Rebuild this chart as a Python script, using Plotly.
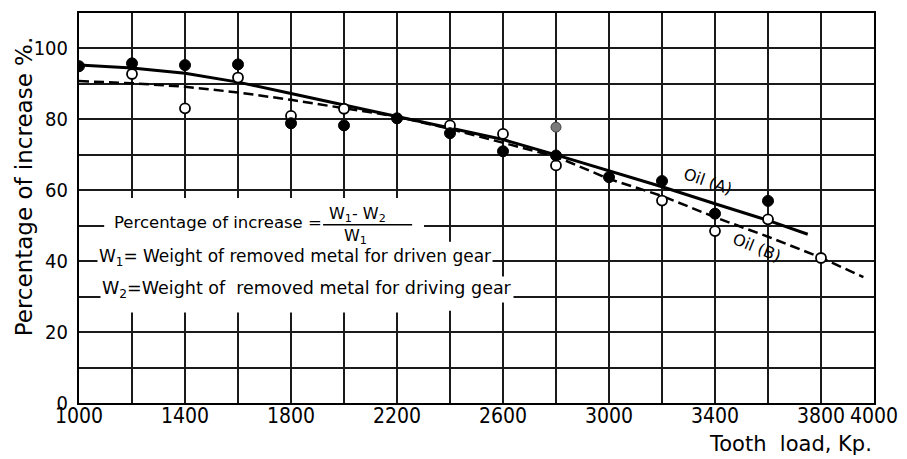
import plotly.graph_objects as go

# ---- data ----
load_a = [1000, 1200, 1400, 1600, 1800, 2000, 2200, 2400, 2600, 2800, 3000, 3200, 3400, 3600]
pct_a = [95.0, 95.8, 95.3, 95.5, 78.9, 78.3, 80.3, 76.1, 71.0, 69.8, 63.7, 62.6, 53.4, 57.0]

load_b = [1200, 1400, 1600, 1800, 2000, 2400, 2600, 2800, 3200, 3400, 3600, 3800]
pct_b = [92.8, 83.1, 91.8, 81.0, 83.0, 78.3, 75.9, 67.0, 57.1, 48.5, 51.8, 40.9]

load_grey = [2800]
pct_grey = [77.8]

curve_a_x = [1000, 1200, 1400, 1600, 1800, 2000, 2200, 2400, 2600, 2800, 3000, 3200, 3400, 3600, 3750]
curve_a_y = [95.3, 94.5, 93.0, 90.5, 87.3, 84.0, 80.8, 77.6, 74.3, 70.0, 65.5, 61.0, 56.2, 51.5, 47.6]

curve_b_x = [1000, 1200, 1400, 1600, 1800, 2000, 2200, 2400, 2600, 2800, 3000, 3200, 3400, 3600, 3800, 3960]
curve_b_y = [90.8, 90.2, 89.2, 87.6, 85.5, 83.2, 80.8, 77.3, 73.5, 69.5, 63.2, 58.4, 52.4, 46.9, 41.0, 35.5]

x_tick_vals = [1000, 1200, 1400, 1600, 1800, 2000, 2200, 2400, 2600, 2800, 3000, 3200, 3400, 3600, 3800, 4000]
x_tick_text = ["1000", "", "1400", "", "1800", "", "2200", "", "2600", "", "3000", "", "3400", "", "3800", "4000"]
y_tick_vals = [0, 10, 20, 30, 40, 50, 60, 70, 80, 90, 100, 110]
y_tick_text = ["0", "", "20", "", "40", "", "60", "", "80", "", "100", ""]

TXT = "DejaVu Sans"
NUM = "DejaVu Sans Condensed, DejaVu Sans"

fig = go.Figure()

fig.add_trace(go.Scatter(x=curve_a_x, y=curve_a_y, mode="lines",
                         line=dict(color="black", width=3), showlegend=False, hoverinfo="skip"))
fig.add_trace(go.Scatter(x=curve_b_x, y=curve_b_y, mode="lines",
                         line=dict(color="black", width=2.5, dash="10px,5px"), showlegend=False, hoverinfo="skip"))
fig.add_trace(go.Scatter(x=load_b, y=pct_b, mode="markers",
                         marker=dict(size=10, color="white", line=dict(color="black", width=1.8)),
                         showlegend=False))
fig.add_trace(go.Scatter(x=load_a, y=pct_a, mode="markers",
                         marker=dict(size=11, color="black", line=dict(color="black", width=1)),
                         showlegend=False))
fig.add_trace(go.Scatter(x=load_grey, y=pct_grey, mode="markers",
                         marker=dict(size=10, color="#7a7a7a", line=dict(color="#444", width=1)),
                         showlegend=False))

# white area behind the formula text (hides grid lines there)
fig.add_shape(type="rect", xref="x", yref="y", x0=1095, x1=2302, y0=25.5, y1=57.8,
              fillcolor="white", line=dict(width=0), layer="between")
fig.add_shape(type="rect", xref="x", yref="y", x0=2302, x1=2440, y0=26, y1=45.5,
              fillcolor="white", line=dict(width=0), layer="between")
# fraction bar
fig.add_shape(type="line", xref="x", yref="y", x0=1921, x1=2257, y0=50.3, y1=50.3,
              line=dict(color="black", width=1.5), layer="above")

ann = []
ann.append(dict(x=1125, y=50.8, xref="x", yref="y", text="Percentage of increase =",
                xanchor="left", yanchor="middle", showarrow=False,
                font=dict(family=TXT, size=16.5, color="black")))
ann.append(dict(x=2050, y=53.2, xref="x", yref="y", text="W<sub>1</sub>- W<sub>2</sub>",
                xanchor="center", yanchor="middle", showarrow=False,
                font=dict(family=TXT, size=16, color="black")))
ann.append(dict(x=2045, y=47.0, xref="x", yref="y", text="W<sub>1</sub>",
                xanchor="center", yanchor="middle", showarrow=False,
                font=dict(family=TXT, size=16, color="black")))
ann.append(dict(x=1068, y=41.0, xref="x", yref="y",
                text="W<sub>1</sub>= Weight of removed metal for driven gear",
                xanchor="left", yanchor="middle", showarrow=False, bgcolor="white",
                font=dict(family=TXT, size=17, color="black")))
ann.append(dict(x=1079, y=32.0, xref="x", yref="y",
                text="W<sub>2</sub>=Weight of  removed metal for driving gear",
                xanchor="left", yanchor="middle", showarrow=False, bgcolor="white",
                font=dict(family=TXT, size=17.5, color="black")))
ann.append(dict(x=3374, y=62.6, xref="x", yref="y", text="Oil (A)", textangle=19,
                xanchor="center", yanchor="middle", showarrow=False,
                font=dict(family=TXT, size=16, color="black")))
ann.append(dict(x=3558, y=44.0, xref="x", yref="y", text="Oil (B)", textangle=22,
                xanchor="center", yanchor="middle", showarrow=False,
                font=dict(family=TXT, size=16, color="black")))
ann.append(dict(x=1.0, y=-0.068, xref="paper", yref="paper", text="Tooth  load, Kp.",
                xanchor="right", yanchor="top", showarrow=False,
                font=dict(family=TXT, size=21, color="black")))
ann.append(dict(x=-0.069, y=0.556, xref="paper", yref="paper", text="Percentage of increase %.",
                textangle=-90, xanchor="center", yanchor="middle", showarrow=False,
                font=dict(family=TXT, size=23, color="black")))

# page body has an 8px default margin, so the figure is sized/offset to compensate
fig.update_layout(
    width=899, height=451,
    margin=dict(l=71, r=33, t=3, b=56),
    paper_bgcolor="white", plot_bgcolor="white",
    annotations=ann, showlegend=False,
    xaxis=dict(range=[1000, 4000], tickvals=x_tick_vals, ticktext=x_tick_text,
               showgrid=True, gridcolor="#1a1a1a", gridwidth=1.5, zeroline=False,
               showline=True, linecolor="black", linewidth=2, mirror=True,
               ticks="", ticklabelstandoff=-7,
               tickfont=dict(family=NUM, size=21, color="black")),
    yaxis=dict(range=[0, 110], tickvals=y_tick_vals, ticktext=y_tick_text,
               showgrid=True, gridcolor="#1a1a1a", gridwidth=1.5, zeroline=False,
               showline=True, linecolor="black", linewidth=2, mirror=True,
               ticks="", ticklabelstandoff=5,
               tickfont=dict(family=NUM, size=20, color="black")),
)

fig.write_html("out.html")
